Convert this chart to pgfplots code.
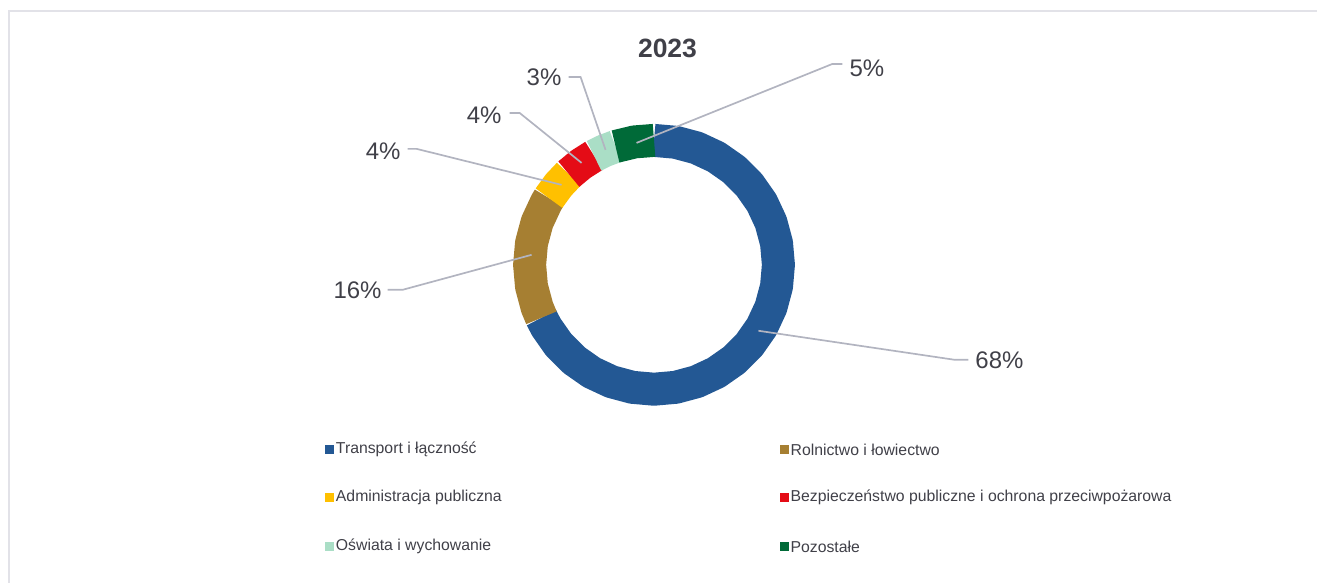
\documentclass[border=0pt]{standalone}
\usepackage{pgfplots}
\pgfplotsset{compat=1.18}
\usepackage{fontspec}
\setmainfont{Liberation Sans}
\definecolor{cTra}{RGB}{35,88,148}
\definecolor{cRol}{RGB}{166,127,50}
\definecolor{cAdm}{RGB}{255,192,0}
\definecolor{cBez}{RGB}{228,12,22}
\definecolor{cOsw}{RGB}{170,222,198}
\definecolor{cPoz}{RGB}{0,106,56}
\definecolor{lead}{RGB}{178,180,192}
\definecolor{txt}{RGB}{64,64,72}
\definecolor{frame}{RGB}{226,226,232}
\pgfplotsset{
  ring/.style={line width=33bp, line cap=butt, line join=round, data cs=polar, no markers},
  leader/.style={draw=lead, line width=1.7bp, no markers},
}
\tikzset{
  lab/.style={font=\fontsize{24bp}{28bp}\selectfont, text=txt, inner sep=0pt},
  leg/.style={font=\fontsize{15.8bp}{18bp}\selectfont, text=txt, inner sep=0pt, anchor=west},
}
\begin{document}
\begin{tikzpicture}
\begin{axis}[
  scale only axis, width=1318bp, height=583bp,
  xmin=-654.5, xmax=663.5, ymin=-318, ymax=265,
  hide axis, clip=false,
]
% canvas extent
\addplot[draw=none, no markers] coordinates {(-654.5,-318) (663.5,265)};
% frame
\addplot[draw=frame, line width=2bp, no markers] coordinates {(-645,-318) (-645,254) (663.5,254)};
% ring segments: 68, 16, 4, 4, 3, 5 percent, clockwise from the top
\addplot[ring, draw=cTra] coordinates {(90,124.5) (80,124.5) (70,124.5) (60,124.5) (50,124.5) (40,124.5) (30,124.5) (20,124.5) (10,124.5) (0,124.5) (-10,124.5) (-20,124.5) (-30,124.5) (-40,124.5) (-50,124.5) (-60,124.5) (-70,124.5) (-80,124.5) (-90,124.5) (-100,124.5) (-110,124.5) (-120,124.5) (-130,124.5) (-140,124.5) (-150,124.5) (-154.8,124.5)};
\addplot[ring, draw=cRol] coordinates {(-154.8,124.5) (-160,124.5) (-170,124.5) (-180,124.5) (-190,124.5) (-200,124.5) (-210,124.5) (-212.4,124.5)};
\addplot[ring, draw=cAdm] coordinates {(-212.4,124.5) (-220,124.5) (-226.8,124.5)};
\addplot[ring, draw=cBez] coordinates {(-226.8,124.5) (-234,124.5) (-241.2,124.5)};
\addplot[ring, draw=cOsw] coordinates {(-241.2,124.5) (-246.6,124.5) (-252,124.5)};
\addplot[ring, draw=cPoz] coordinates {(-252,124.5) (-261,124.5) (-270,124.5)};
% leader lines
\addplot[leader] coordinates {(104.5,-66) (300.5,-95) (314.5,-95)};
\addplot[leader] coordinates {(-122.5,10) (-251.5,-25) (-266.5,-25)};
\addplot[leader] coordinates {(-92.5,80) (-237.5,116) (-246.5,116)};
\addplot[leader] coordinates {(-72.5,102) (-134.5,152) (-144.5,152)};
\addplot[leader] coordinates {(-48.5,115) (-73.5,188) (-85.5,188)};
\addplot[leader] coordinates {(-17.5,122) (178.5,201) (188.5,201)};
\node[lab, anchor=west] at (axis cs:321.5,-96) {68\%};
\node[lab, anchor=east] at (axis cs:-272.5,-25) {16\%};
\node[lab, anchor=east] at (axis cs:-253.5,114) {4\%};
\node[lab, anchor=east] at (axis cs:-152.5,150) {4\%};
\node[lab, anchor=east] at (axis cs:-92.5,188) {3\%};
\node[lab, anchor=west] at (axis cs:195.5,197) {5\%};
% title
\node[font=\bfseries\fontsize{26.5bp}{30bp}\selectfont, text=txt, inner sep=0pt] at (axis cs:13.5,217) {2023};
% legend
\addplot[only marks, mark=square*, mark size=4bp, color=cTra] coordinates {(-325.5,-185)};
\addplot[only marks, mark=square*, mark size=4bp, color=cRol] coordinates {(130,-185)};
\addplot[only marks, mark=square*, mark size=4bp, color=cAdm] coordinates {(-325.5,-233)};
\addplot[only marks, mark=square*, mark size=4bp, color=cBez] coordinates {(130,-233)};
\addplot[only marks, mark=square*, mark size=4bp, color=cOsw] coordinates {(-325.5,-282)};
\addplot[only marks, mark=square*, mark size=4bp, color=cPoz] coordinates {(130,-282)};
\node[leg] at (axis cs:-318.5,-185) {Transport i łączność};
\node[leg] at (axis cs:136.5,-185) {Rolnictwo i łowiectwo};
\node[leg] at (axis cs:-318.5,-233) {Administracja publiczna};
\node[leg] at (axis cs:136.5,-233) {Bezpieczeństwo publiczne i ochrona przeciwpożarowa};
\node[leg] at (axis cs:-318.5,-282) {Oświata i wychowanie};
\node[leg] at (axis cs:136.5,-282) {Pozostałe};
\end{axis}
\end{tikzpicture}
\end{document}
